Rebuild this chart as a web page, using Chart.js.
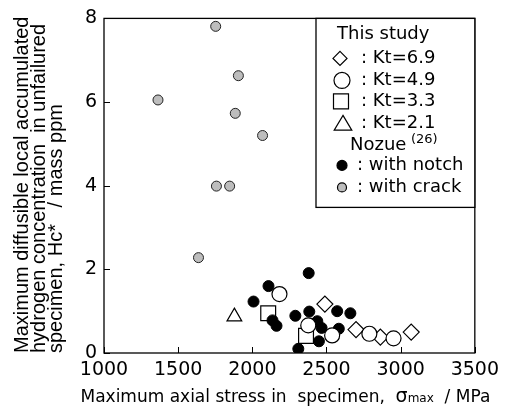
<!DOCTYPE html>
<html>
<head>
<meta charset="utf-8">
<script src="https://cdn.jsdelivr.net/npm/chart.js@4/dist/chart.umd.min.js"></script>
<style>
  html, body { margin: 0; padding: 0; background: #fff; }
  #wrap { width: 505px; height: 408px; }
</style>
</head>
<body>
<div id="wrap"><canvas id="myChart"></canvas></div>
<script>
// ### data (stress MPa, hydrogen mass ppm)
const kt69X = [2489, 2699, 2863, 3071]
const kt69Y = [1.17, 0.56, 0.38, 0.50]
const kt49X = [2183, 2377, 2538, 2789, 2952]
const kt49Y = [1.41, 0.66, 0.42, 0.46, 0.35]
const kt33X = [2107, 2362]
const kt33Y = [0.95, 0.41]
const kt21X = [1879]
const kt21Y = [0.87]
const notchX = [2380, 2109, 2008, 2136, 2163, 2290, 2384, 2438, 2467, 2572, 2661, 2583, 2449, 2310]
const notchY = [1.91, 1.60, 1.23, 0.78, 0.65, 0.89, 0.99, 0.76, 0.60, 1.00, 0.95, 0.58, 0.28, 0.10]
const crackX = [1753, 1906, 1364, 1885, 2069, 1758, 1847, 1637]
const crackY = [7.81, 6.63, 6.05, 5.73, 5.20, 3.99, 3.99, 2.28]

const xTicks = [1000, 1500, 2000, 2500, 3000, 3500]
const yTicks = [0, 2, 4, 6, 8]

function pts(xs, ys) {
    return xs.map((x, i) => ({ x: x, y: ys[i] }))
}

const numFont = '"DejaVu Sans", sans-serif'
const txtFont = '"Liberation Sans", Arial, sans-serif'

// ### marker drawing for the legend box
function marker(ctx, style, x, y, r, fill) {
    ctx.save()
    ctx.beginPath()
    ctx.lineWidth = 1.2
    ctx.strokeStyle = '#000'
    ctx.fillStyle = fill
    if (style === 'circle') {
        ctx.arc(x, y, r, 0, Math.PI * 2)
    } else if (style === 'rect') {
        ctx.rect(x - r, y - r, 2 * r, 2 * r)
    } else if (style === 'rectRot') {
        ctx.moveTo(x, y - r); ctx.lineTo(x + r, y); ctx.lineTo(x, y + r); ctx.lineTo(x - r, y); ctx.closePath()
    } else if (style === 'triangle') {
        ctx.moveTo(x, y - r); ctx.lineTo(x + r * 1.1, y + r * 0.85); ctx.lineTo(x - r * 1.1, y + r * 0.85); ctx.closePath()
    }
    ctx.fill()
    ctx.stroke()
    ctx.restore()
}

const framePlugin = {
    id: 'frame',
    afterDraw(chart) {
        const { ctx, chartArea: a, scales } = chart
        ctx.save()
        ctx.strokeStyle = '#000'
        ctx.lineWidth = 1.3
        ctx.strokeRect(a.left, a.top, a.right - a.left, a.bottom - a.top)
        // inward ticks
        ctx.beginPath()
        xTicks.forEach(v => {
            const px = Math.round(scales.x.getPixelForValue(v)) + 0.5
            ctx.moveTo(px, a.bottom); ctx.lineTo(px, a.bottom - 6)
        })
        yTicks.forEach(v => {
            const py = Math.round(scales.y.getPixelForValue(v)) + 0.5
            ctx.moveTo(a.left, py); ctx.lineTo(a.left + 6, py)
        })
        ctx.lineWidth = 1
        ctx.stroke()

        // x axis title, sigma with small "max"
        ctx.fillStyle = '#000'
        ctx.textBaseline = 'alphabetic'
        ctx.textAlign = 'left'
        const parts = [
            ['Maximum axial stress in  specimen,  ', '17px ' + numFont],
            ['σ', '19px ' + numFont],
            ['max', '12px ' + numFont],
            ['  / MPa', '17px ' + numFont]
        ]
        let total = 0
        parts.forEach(p => { ctx.font = p[1]; p.push(ctx.measureText(p[0]).width); total += p[2] })
        let tx = (a.left + a.right) / 2 - 4 - total / 2
        const base = chart.height - 6
        parts.forEach(p => { ctx.font = p[1]; ctx.fillText(p[0], tx, base); tx += p[2] })

        // legend box
        const L = a.left + 212, T = a.top, R = a.right, B = a.top + 189
        ctx.fillStyle = '#fff'
        ctx.fillRect(L, T, R - L, B - T)
        ctx.lineWidth = 1.3
        ctx.strokeRect(L, T, R - L, B - T)

        ctx.fillStyle = '#000'
        ctx.textBaseline = 'middle'
        ctx.textAlign = 'left'
        ctx.font = '18px ' + numFont
        ctx.fillText('This study', L + 21, T + 16)
        const rows = [
            ['rectRot', ': Kt=6.9', 40, 7, 24],
            ['circle', ': Kt=4.9', 62, 8, 26],
            ['rect', ': Kt=3.3', 83, 7.5, 25],
            ['triangle', ': Kt=2.1', 105, 8, 27]
        ]
        rows.forEach(r => {
            marker(ctx, r[0], L + r[4], T + r[2], r[3], '#fff')
            ctx.fillText(r[1], L + 45, T + r[2])
        })
        ctx.fillText('Nozue', L + 34, T + 127)
        ctx.font = '13px ' + numFont
        ctx.fillText('(26)', L + 95, T + 121)
        ctx.font = '18px ' + numFont
        marker(ctx, 'circle', L + 26, T + 147, 5, '#000')
        ctx.fillText(': with notch', L + 41, T + 147)
        marker(ctx, 'circle', L + 26, T + 169, 4.5, '#bdbdbd')
        ctx.fillText(': with crack', L + 41, T + 169)
        ctx.restore()
    }
}

const data = {
    datasets: [
        { label: 'Nozue with crack', data: pts(crackX, crackY), pointStyle: 'circle', pointRadius: 5,
          backgroundColor: '#bdbdbd', borderColor: '#222', borderWidth: 1 },
        { label: 'Kt=4.9', data: pts(kt49X, kt49Y), pointStyle: 'circle', pointRadius: 7.5,
          backgroundColor: '#fff', borderColor: '#000', borderWidth: 1.2 },
        { label: 'Nozue with notch', data: pts(notchX, notchY), pointStyle: 'circle', pointRadius: 5.5,
          backgroundColor: '#000', borderColor: '#000', borderWidth: 1 },
        { label: 'Kt=6.9', data: pts(kt69X, kt69Y), pointStyle: 'rectRot', pointRadius: 8,
          backgroundColor: '#fff', borderColor: '#000', borderWidth: 1.2 },
        { label: 'Kt=3.3', data: pts(kt33X, kt33Y), pointStyle: 'rect', pointRadius: 10.5,
          backgroundColor: '#fff', borderColor: '#000', borderWidth: 1.2 },
        { label: 'Kt=2.1', data: pts(kt21X, kt21Y), pointStyle: 'triangle', pointRadius: 8.5,
          backgroundColor: '#fff', borderColor: '#000', borderWidth: 1.2 }
    ]
}

const config = {
    type: 'scatter',
    data: data,
    plugins: [framePlugin],
    options: {
        responsive: true,
        maintainAspectRatio: false,
        animation: false,
        layout: { padding: { left: 0, right: 29, top: 14, bottom: 0 } },
        plugins: { legend: { display: false }, tooltip: { enabled: false } },
        scales: {
            x: {
                type: 'linear', min: 1000, max: 3500,
                afterBuildTicks: s => { s.ticks = xTicks.map(v => ({ value: v })) },
                afterFit: s => { s.height = 55 },
                grid: { display: false, drawTicks: false },
                border: { display: false },
                ticks: { color: '#000', padding: 6, maxRotation: 0, autoSkip: false,
                         callback: v => String(v), font: { family: numFont, size: 19 } },
                title: { display: false }
            },
            y: {
                type: 'linear', min: 0, max: 8,
                afterBuildTicks: s => { s.ticks = yTicks.map(v => ({ value: v })) },
                afterFit: s => { s.width = 104 },
                grid: { display: false, drawTicks: false },
                border: { display: false },
                ticks: { color: '#000', padding: 7, callback: v => String(v), font: { family: numFont, size: 19 } },
                title: {
                    display: true, align: 'start',
                    text: ['Maximum diffusible local accumulated', 'hydrogen concentration  in unfailured', 'specimen, Hc*   / mass ppm'],
                    color: '#000', padding: { top: 14, bottom: 0 }, font: { family: txtFont, size: 20, lineHeight: 0.85 }
                }
            }
        }
    }
}

new Chart(document.getElementById('myChart'), config)
</script>
</body>
</html>
